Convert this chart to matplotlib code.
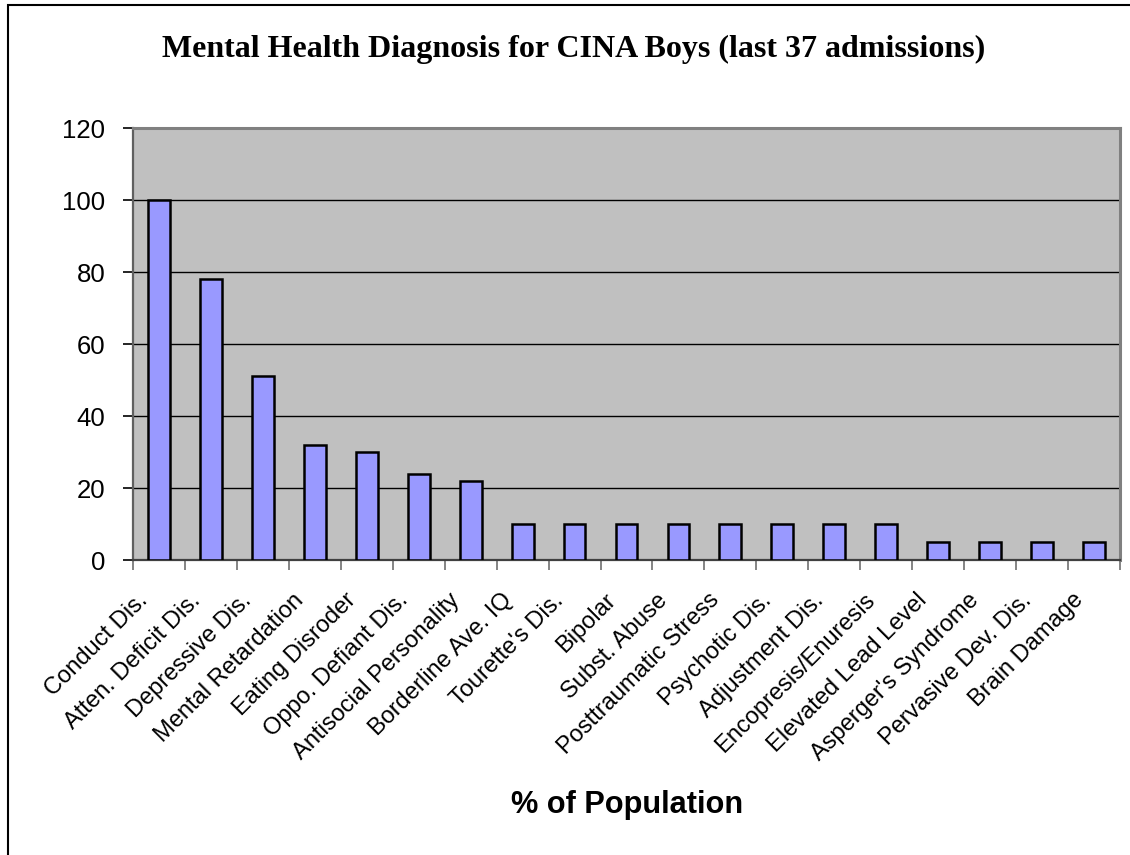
import matplotlib
matplotlib.use("Agg")
import matplotlib.pyplot as plt
from matplotlib.patches import Rectangle
from matplotlib.transforms import ScaledTranslation
import numpy as np

categories = ["Conduct Dis.", "Atten. Deficit Dis.", "Depressive Dis.", "Mental Retardation",
              "Eating Disroder", "Oppo. Defiant Dis.", "Antisocial Personality", "Borderline Ave. IQ",
              "Tourette's Dis.", "Bipolar", "Subst. Abuse", "Posttraumatic Stress", "Psychotic Dis.",
              "Adjustment Dis.", "Encopresis/Enuresis", "Elevated Lead Level", "Asperger's Syndrome",
              "Pervasive Dev. Dis.", "Brain Damage"]
values = [100, 78, 51, 32, 30, 24, 22, 10, 10, 10, 10, 10, 10, 10, 10, 5, 5, 5, 5]
yticks = [0, 20, 40, 60, 80, 100, 120]

W, H = 1130, 855
fig = plt.figure(figsize=(W / 100, H / 100), dpi=100)
fig.patches.append(Rectangle((8 / W, -0.1), 1.2, 1 - 5 / H + 0.1, transform=fig.transFigure,
                             fill=False, edgecolor="black", linewidth=1.5, zorder=0))

ax = fig.add_axes([133 / W, 1 - 560 / H, (1120 - 133) / W, (560 - 128) / H])
ax.set_facecolor("#C0C0C0")
x = np.arange(len(categories))
ax.bar(x, values, width=0.42, color="#9999FF", edgecolor="black", linewidth=1.8, zorder=3)
ax.set_xlim(-0.5, len(categories) - 0.5)
ax.set_ylim(0, 120)
ax.set_yticks(yticks)
ax.set_yticklabels([str(t) for t in yticks], fontsize=18.5, family="Liberation Sans")
for t in yticks[1:-1]:
    ax.axhline(t, color="black", linewidth=1, zorder=1)

ax.set_xticks(x)
ax.set_xticklabels(categories, rotation=45, ha="right", va="top", rotation_mode="anchor",
                   fontsize=17, family="Liberation Sans")
ax.tick_params(axis="x", which="major", length=0, pad=21)
offset = ScaledTranslation(-22 / 100, 0, fig.dpi_scale_trans)
for lab in ax.get_xticklabels():
    lab.set_transform(lab.get_transform() + offset)
ax.set_xticks(np.arange(-0.5, len(categories), 1), minor=True)
ax.tick_params(axis="x", which="minor", length=7, color="#707070", width=1.2)
ax.tick_params(axis="y", length=7, width=1.2, color="black", pad=13)

for s in ["top", "right"]:
    ax.spines[s].set_color("#808080")
    ax.spines[s].set_linewidth(2.2)
ax.spines["left"].set_color("#606060")
ax.spines["left"].set_linewidth(1.6)
ax.spines["bottom"].set_color("#404040")
ax.spines["bottom"].set_linewidth(1.6)

title = fig.text(574 / W, 1 - 57 / H, "Mental Health Diagnosis for CINA Boys (last 37 admissions)",
                 ha="center", va="baseline", fontsize=22.5, fontweight="bold", family="Liberation Serif")
xlab = fig.text(627 / W, 1 - 813 / H, "% of Population", ha="center", va="baseline",
                fontsize=21.5, fontweight="bold", family="Liberation Sans")

# fit text widths to the reference widths
fig.canvas.draw()
r = fig.canvas.get_renderer()
for t, target in [(title, 822), (xlab, 233)]:
    w = t.get_window_extent(r).width
    t.set_fontsize(t.get_fontsize() * target / w)

fig.savefig("out.png", dpi=100)
